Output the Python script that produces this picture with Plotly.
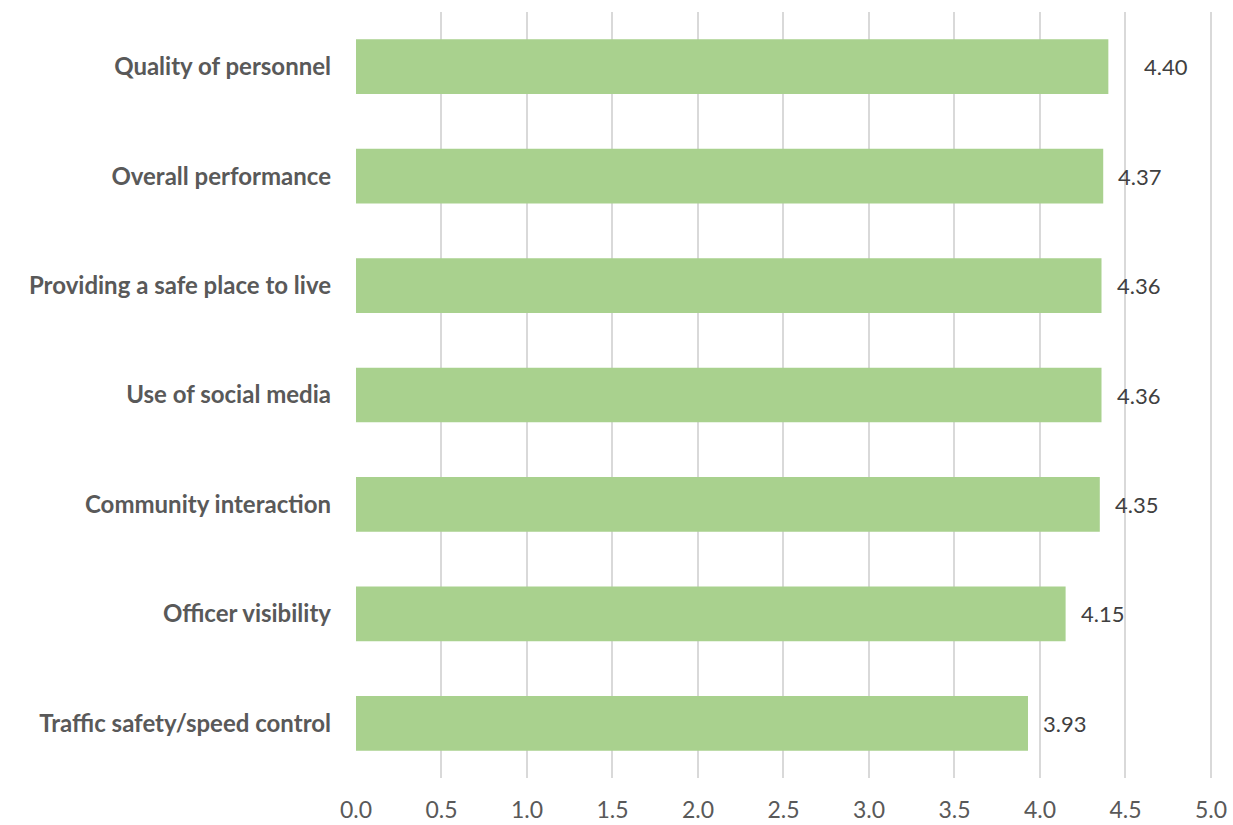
import plotly.graph_objects as go

categories = [
    "Quality of personnel",
    "Overall performance",
    "Providing a safe place to live",
    "Use of social media",
    "Community interaction",
    "Officer visibility",
    "Traffic safety/speed control",
]
values = [4.40, 4.37, 4.36, 4.36, 4.35, 4.15, 3.93]
tick_vals = [0, 0.5, 1.0, 1.5, 2.0, 2.5, 3.0, 3.5, 4.0, 4.5, 5.0]
tick_text = ["0.0", "0.5", "1.0", "1.5", "2.0", "2.5", "3.0", "3.5", "4.0", "4.5", "5.0"]

# styling: extra horizontal offset (px) of each value label
label_shift = [34, 13, 13, 13, 13, 13, 13]

fig = go.Figure()
fig.add_trace(go.Bar(
    y=categories,
    x=values,
    orientation="h",
    marker=dict(color="#A9D18E", line=dict(width=0)),
    hoverinfo="x+y",
))

for c, v, s in zip(categories, values, label_shift):
    fig.add_annotation(
        x=v, y=c, text=f"{v:.2f}", showarrow=False,
        xanchor="left", xshift=s,
        font=dict(family="Lato", size=22, color="#404040"),
    )

fig.update_layout(
    width=1233, height=825,
    margin=dict(l=356, r=20, t=12, b=47),
    paper_bgcolor="white", plot_bgcolor="white",
    bargap=0.5,
    showlegend=False,
    xaxis=dict(
        range=[0, 5.012], tickvals=tick_vals, ticktext=tick_text,
        showgrid=True, gridcolor="#D9D9D9", gridwidth=1.5,
        zeroline=False, showline=False, ticks="",
        tickfont=dict(family="Lato", size=23, color="#595959"),
        ticklabelstandoff=16, ticklabeloverflow="allow",
        automargin=False,
    ),
    yaxis=dict(
        categoryorder="array", categoryarray=categories[::-1],
        showgrid=False, zeroline=False, showline=False, ticks="",
        tickfont=dict(family="Lato", size=24, color="#595959", weight="bold"),
        ticklabelstandoff=24, automargin=False,
    ),
)

fig.write_html(
    "out.html",
    config={"displayModeBar": False},
    post_script="document.body.style.margin='0';document.body.style.overflow='hidden';",
)
